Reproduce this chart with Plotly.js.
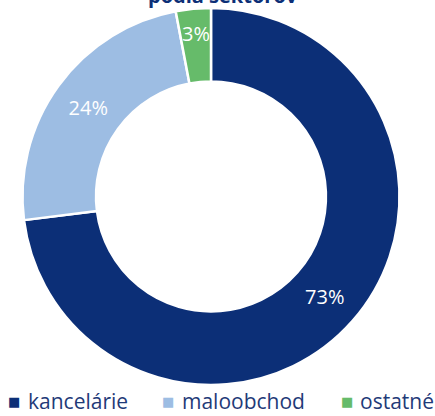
<!DOCTYPE html>
<html>
<head>
<meta charset="utf-8">
<script src="https://cdn.plot.ly/plotly-3.0.1.min.js"></script>
<style>html,body{margin:0;padding:0;background:#fff;}#chart{width:435px;height:416px;}</style>
</head>
<body>
<div id="chart"></div>
<script>
const categories = ["kancelárie", "maloobchod", "ostatné"];
const shares = [73, 24, 3];
const colors = ["#0c2f77", "#9dbde3", "#66bb6a"];
const titleText = "podľa sektorov";

const W = 422, H = 377;
const hole = 0.61;

const trace = {
  type: "pie",
  labels: categories,
  values: shares,
  hole: hole,
  sort: false,
  direction: "clockwise",
  rotation: 0,
  marker: { colors: colors, line: { color: "#ffffff", width: 2.5 } },
  texttemplate: "%{value}%",
  textposition: ["inside", "inside", "none"],
  insidetextorientation: "horizontal",
  insidetextfont: { color: "#ffffff", size: 20, family: "Open Sans, sans-serif" },
  hoverinfo: "none",
  showlegend: false
};

const annotations = [];

// label for the narrow last slice, placed from its share (mid-angle, near outer edge)
(function () {
  const total = shares.reduce((a, b) => a + b, 0);
  const i = shares.length - 1;
  const before = shares.slice(0, i).reduce((a, b) => a + b, 0);
  const ang = (before + shares[i] / 2) / total * 2 * Math.PI;
  const R = H / 2 - 1.5;
  const r = R * 0.875;
  const px = W / 2 + r * Math.sin(ang);
  const py = H / 2 - r * Math.cos(ang);
  annotations.push({
    xref: "paper", yref: "paper", x: px / W, y: 1 - py / H,
    xanchor: "center", yanchor: "middle", showarrow: false,
    text: shares[i] + "%", font: { size: 20, color: "#ffffff", family: "Open Sans, sans-serif" }
  });
})();

// title (only its lower part shows at the top edge, as in the reference)
annotations.push({
  xref: "paper", yref: "paper", x: 0.528, y: 1 - 3 / H,
  xanchor: "center", yanchor: "bottom", showarrow: false,
  text: "<b>" + titleText + "</b>",
  font: { family: "Open Sans, sans-serif", size: 20, color: "#0c2f77" }
});

// legend drawn as annotations (square marker + label)
const legendSquareX = [14, 168, 347];
const legendTextX = [26, 180, 358];
const legendY = -16 / H;
categories.forEach((c, i) => {
  annotations.push({
    xref: "paper", yref: "paper", x: legendSquareX[i] / W, y: legendY,
    xanchor: "center", yanchor: "middle", showarrow: false,
    text: "■", font: { size: 13, color: colors[i], family: "DejaVu Sans" }
  });
  annotations.push({
    xref: "paper", yref: "paper", x: legendTextX[i] / W, y: legendY,
    xanchor: "left", yanchor: "middle", showarrow: false,
    text: c, font: { size: 21, color: "#1f3a78", family: "Open Sans, sans-serif" }
  });
});

const layout = {
  width: 435,
  height: 416,
  margin: { l: 0, r: 13, t: 8, b: 31 },
  paper_bgcolor: "#ffffff",
  showlegend: false,
  annotations: annotations
};

Plotly.newPlot("chart", [trace], layout, { displayModeBar: false, staticPlot: true });
</script>
</body>
</html>
